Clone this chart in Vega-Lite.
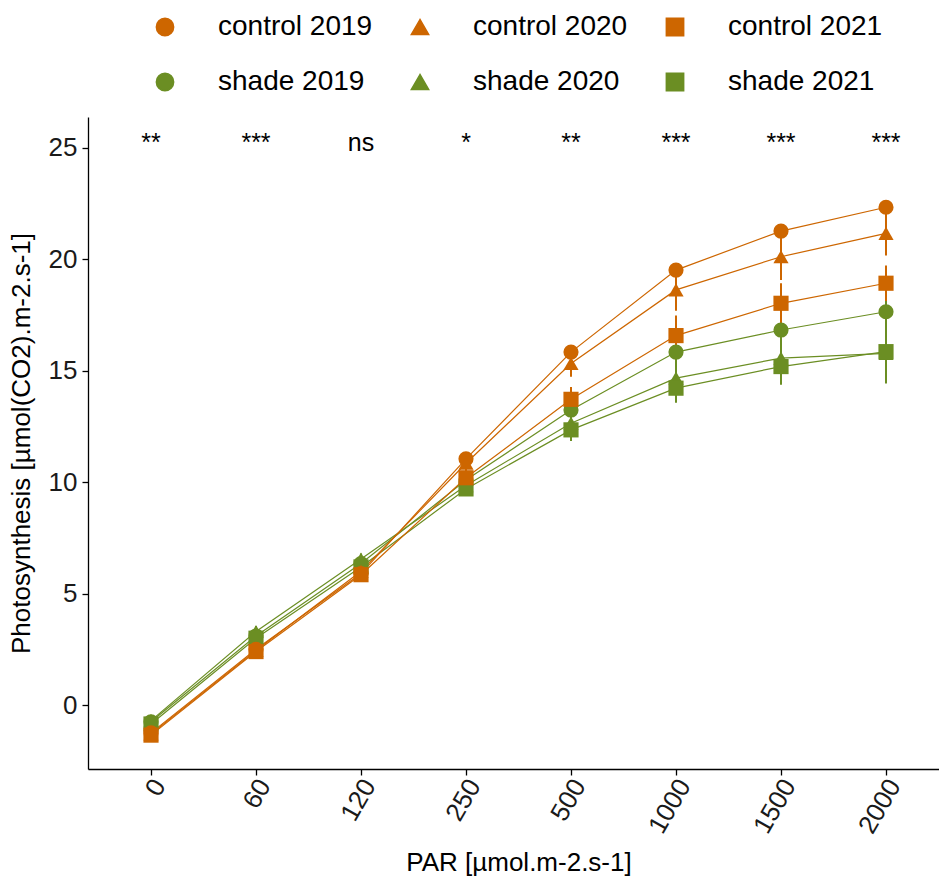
{
  "$schema": "https://vega.github.io/schema/vega-lite/v6.json",
  "width": 861,
  "height": 652,
  "autosize": {"type": "none"},
  "padding": {"left": 88, "top": 117, "right": 0, "bottom": 118},
  "background": "white",
  "config": {
    "view": {"stroke": null},
    "font": "Liberation Sans",
    "axis": {
      "grid": false,
      "domainColor": "black",
      "domainWidth": 1.3,
      "tickColor": "black",
      "tickWidth": 1.3,
      "tickSize": 6,
      "labelColor": "#1a1a1a",
      "labelFont": "Liberation Sans",
      "titleFont": "Liberation Sans",
      "titleFontWeight": "normal",
      "titleColor": "black",
      "labelFontSize": 26,
      "titleFontSize": 26
    }
  },
  "datasets": {
    "ps": [
      {"group": "shade 2019", "PAR": "0", "mean": -0.75, "lo": -0.9, "hi": -0.6},
      {"group": "shade 2019", "PAR": "60", "mean": 3.1, "lo": 2.9, "hi": 3.3},
      {"group": "shade 2019", "PAR": "120", "mean": 6.35, "lo": 6.15, "hi": 6.55},
      {"group": "shade 2019", "PAR": "250", "mean": 10.1, "lo": 9.8, "hi": 10.4},
      {"group": "shade 2019", "PAR": "500", "mean": 13.24, "lo": 12.84, "hi": 13.64},
      {"group": "shade 2019", "PAR": "1000", "mean": 15.84, "lo": 15.34, "hi": 16.34},
      {"group": "shade 2019", "PAR": "1500", "mean": 16.83, "lo": 16.33, "hi": 17.33},
      {"group": "shade 2019", "PAR": "2000", "mean": 17.65, "lo": 17.05, "hi": 18.25},
      {"group": "shade 2020", "PAR": "0", "mean": -0.7, "lo": -0.9, "hi": -0.5},
      {"group": "shade 2020", "PAR": "60", "mean": 3.3, "lo": 3.05, "hi": 3.55},
      {"group": "shade 2020", "PAR": "120", "mean": 6.55, "lo": 6.3, "hi": 6.8},
      {"group": "shade 2020", "PAR": "250", "mean": 9.85, "lo": 9.5, "hi": 10.2},
      {"group": "shade 2020", "PAR": "500", "mean": 12.65, "lo": 11.85, "hi": 13.45},
      {"group": "shade 2020", "PAR": "1000", "mean": 14.67, "lo": 13.57, "hi": 15.77},
      {"group": "shade 2020", "PAR": "1500", "mean": 15.57, "lo": 14.37, "hi": 16.77},
      {"group": "shade 2020", "PAR": "2000", "mean": 15.78, "lo": 14.43, "hi": 17.13},
      {"group": "shade 2021", "PAR": "0", "mean": -0.85, "lo": -1.0, "hi": -0.7},
      {"group": "shade 2021", "PAR": "60", "mean": 3.0, "lo": 2.8, "hi": 3.2},
      {"group": "shade 2021", "PAR": "120", "mean": 6.2, "lo": 6.0, "hi": 6.4},
      {"group": "shade 2021", "PAR": "250", "mean": 9.7, "lo": 9.4, "hi": 10.0},
      {"group": "shade 2021", "PAR": "500", "mean": 12.35, "lo": 11.85, "hi": 12.85},
      {"group": "shade 2021", "PAR": "1000", "mean": 14.22, "lo": 13.62, "hi": 14.82},
      {"group": "shade 2021", "PAR": "1500", "mean": 15.19, "lo": 14.49, "hi": 15.89},
      {"group": "shade 2021", "PAR": "2000", "mean": 15.86, "lo": 15.06, "hi": 16.66},
      {"group": "control 2019", "PAR": "0", "mean": -1.25, "lo": -1.4, "hi": -1.1},
      {"group": "control 2019", "PAR": "60", "mean": 2.5, "lo": 2.35, "hi": 2.65},
      {"group": "control 2019", "PAR": "120", "mean": 5.9, "lo": 5.7, "hi": 6.1},
      {"group": "control 2019", "PAR": "250", "mean": 11.05, "lo": 10.8, "hi": 11.3},
      {"group": "control 2019", "PAR": "500", "mean": 15.84, "lo": 15.54, "hi": 16.14},
      {"group": "control 2019", "PAR": "1000", "mean": 19.52, "lo": 19.22, "hi": 19.82},
      {"group": "control 2019", "PAR": "1500", "mean": 21.27, "lo": 20.97, "hi": 21.57},
      {"group": "control 2019", "PAR": "2000", "mean": 22.34, "lo": 22.04, "hi": 22.64},
      {"group": "control 2020", "PAR": "0", "mean": -1.3, "lo": -1.5, "hi": -1.1},
      {"group": "control 2020", "PAR": "60", "mean": 2.45, "lo": 2.25, "hi": 2.65},
      {"group": "control 2020", "PAR": "120", "mean": 6.0, "lo": 5.75, "hi": 6.25},
      {"group": "control 2020", "PAR": "250", "mean": 10.85, "lo": 10.4, "hi": 11.3},
      {"group": "control 2020", "PAR": "500", "mean": 15.33, "lo": 14.73, "hi": 15.93},
      {"group": "control 2020", "PAR": "1000", "mean": 18.63, "lo": 17.7, "hi": 19.56},
      {"group": "control 2020", "PAR": "1500", "mean": 20.12, "lo": 19.07, "hi": 21.17},
      {"group": "control 2020", "PAR": "2000", "mean": 21.17, "lo": 20.17, "hi": 22.17},
      {"group": "control 2021", "PAR": "0", "mean": -1.35, "lo": -1.5, "hi": -1.2},
      {"group": "control 2021", "PAR": "60", "mean": 2.4, "lo": 2.2, "hi": 2.6},
      {"group": "control 2021", "PAR": "120", "mean": 5.85, "lo": 5.65, "hi": 6.05},
      {"group": "control 2021", "PAR": "250", "mean": 10.2, "lo": 9.8, "hi": 10.6},
      {"group": "control 2021", "PAR": "500", "mean": 13.72, "lo": 13.17, "hi": 14.27},
      {"group": "control 2021", "PAR": "1000", "mean": 16.58, "lo": 15.68, "hi": 17.48},
      {"group": "control 2021", "PAR": "1500", "mean": 18.03, "lo": 17.13, "hi": 18.93},
      {"group": "control 2021", "PAR": "2000", "mean": 18.93, "lo": 18.13, "hi": 19.73}
    ],
    "sig": [
      {"PAR": "0", "label": "**"},
      {"PAR": "60", "label": "***"},
      {"PAR": "120", "label": "ns"},
      {"PAR": "250", "label": "*"},
      {"PAR": "500", "label": "**"},
      {"PAR": "1000", "label": "***"},
      {"PAR": "1500", "label": "***"},
      {"PAR": "2000", "label": "***"}
    ]
  },
  "encoding": {
    "x": {
      "field": "PAR",
      "type": "ordinal",
      "sort": ["0", "60", "120", "250", "500", "1000", "1500", "2000"],
      "scale": {"type": "point", "padding": 0.6},
      "axis": {"title": "PAR [µmol.m-2.s-1]", "labelAngle": -60, "labelPadding": 6, "labelOffset": 8, "titlePadding": 12}
    }
  },
  "layer": [
    {
      "data": {"name": "ps"},
      "mark": {"type": "line", "strokeWidth": 1.2},
      "encoding": {
        "y": {
          "field": "mean",
          "type": "quantitative",
          "scale": {"domain": [-2.87, 26.39], "nice": false, "zero": false},
          "axis": {"title": "Photosynthesis [µmol(CO2).m-2.s-1]", "values": [0, 5, 10, 15, 20, 25], "labelPadding": 5, "titlePadding": 14}
        },
        "color": {
          "field": "group",
          "type": "nominal",
          "scale": {
            "domain": ["control 2019", "control 2020", "control 2021", "shade 2019", "shade 2020", "shade 2021"],
            "range": ["#CD6600", "#CD6600", "#CD6600", "#6B8E23", "#6B8E23", "#6B8E23"]
          }
        },
        "detail": {"field": "group"}
      }
    },
    {
      "data": {"name": "ps"},
      "mark": {"type": "rule", "strokeWidth": 2},
      "encoding": {
        "y": {"field": "lo", "type": "quantitative"},
        "y2": {"field": "hi"},
        "color": {"field": "group", "type": "nominal"}
      }
    },
    {
      "data": {"name": "ps"},
      "mark": {"type": "point", "filled": true, "size": 230, "opacity": 1},
      "encoding": {
        "y": {"field": "mean", "type": "quantitative"},
        "color": {
          "field": "group",
          "type": "nominal",
          "legend": {
            "title": null,
            "orient": "none",
            "legendX": 63,
            "legendY": -104,
            "direction": "horizontal",
            "columns": 3,
            "symbolSize": 300,
            "labelFontSize": 28,
            "labelFont": "Liberation Sans",
            "labelColor": "black",
            "labelOffset": 39,
            "columnPadding": 33,
            "rowPadding": 27,
            "padding": 0,
            "labelLimit": 400
          }
        },
        "shape": {
          "field": "group",
          "type": "nominal",
          "scale": {
            "domain": ["control 2019", "control 2020", "control 2021", "shade 2019", "shade 2020", "shade 2021"],
            "range": ["circle", "triangle-up", "square", "circle", "triangle-up", "square"]
          },
          "legend": {
            "title": null,
            "orient": "none",
            "legendX": 63,
            "legendY": -104,
            "direction": "horizontal",
            "columns": 3,
            "symbolSize": 300,
            "labelFontSize": 28,
            "labelFont": "Liberation Sans",
            "labelColor": "black",
            "labelOffset": 39,
            "columnPadding": 33,
            "rowPadding": 27,
            "padding": 0,
            "labelLimit": 400
          }
        }
      }
    },
    {
      "data": {"name": "sig"},
      "mark": {"type": "text", "fontSize": 25, "baseline": "middle", "dy": -5, "color": "black", "font": "Liberation Sans"},
      "encoding": {
        "y": {"datum": 25},
        "text": {"field": "label"}
      }
    }
  ]
}
